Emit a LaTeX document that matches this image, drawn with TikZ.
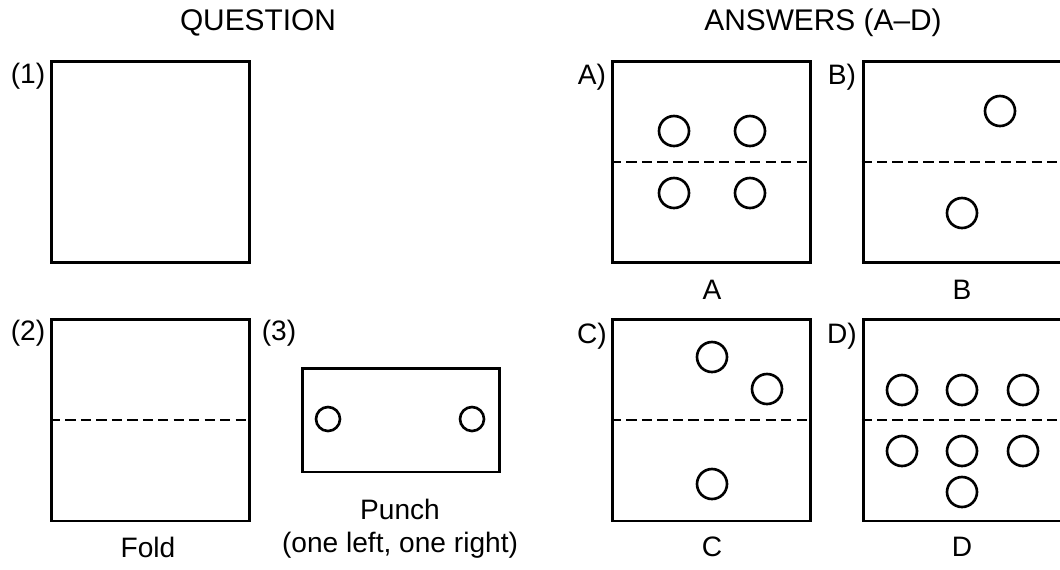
\documentclass[tikz,border=0pt]{standalone}
\usepackage{fontspec}
\setmainfont{Liberation Sans}

\begin{document}
\begin{tikzpicture}[
  x=0.02cm, y=-0.02cm,
  font=\fontsize{16}{19}\selectfont,
  sheet/.style={draw,line width=1.7pt,inner sep=0pt,
    minimum width=3.96cm,minimum height=4.04cm},
  strip/.style={sheet,minimum width=3.96cm,minimum height=2.08cm},
  fold/.style={dash pattern=on 5.8pt off 3pt,line width=1.6pt},
  hole/.style={line width=1.5pt},
  heading/.style={font=\fontsize{17}{20}\selectfont},
  tag/.style={inner sep=0pt},
  caption/.style={inner sep=0pt,align=center}
]
\useasboundingbox (0,0) rectangle (1060,569);

% Headings
\node[heading] (question) at (258,23) {QUESTION};
\node[heading] (answers) at (823,23) {ANSWERS (A--D)};

% Question sheets
\node[sheet] (s1) at (150.5,162) {};
\node[tag] (t1) at (28,76) {(1)};

\node[sheet] (s2) at (150.5,420) {};
\node[tag] (t2) at (28,333) {(2)};
\draw[fold] (s2.west) -- (s2.east);
\node[caption] (fold) at (148,547) {Fold};

\node[strip] (s3) at (401,420) {};
\node[tag] (t3) at (279,333) {(3)};
\draw[hole] (328,419) circle[radius=0.24cm];
\draw[hole] (472,419) circle[radius=0.24cm];
\node[caption] (punch) at (400,529) {Punch\\(one left, one right)};

% Answer A
\node[sheet] (A) at (711.5,162) {};
\node[tag] (tA) at (592,77) {A)};
\draw[fold] (A.west) -- (A.east);
\foreach \p in {(674,131),(750,131),(674,193),(750,193)}
  \draw[hole] \p circle[radius=0.3cm];
\node[caption] (cA) at (712,290) {A};

% Answer B
\node[sheet] (B) at (962,162) {};
\node[tag] (tB) at (842,77) {B)};
\draw[fold] (B.west) -- (B.east);
\foreach \p in {(1000,111),(962,213)}
  \draw[hole] \p circle[radius=0.3cm];
\node[caption] (cB) at (962,290) {B};

% Answer C
\node[sheet] (C) at (711.5,420) {};
\node[tag] (tC) at (592,336) {C)};
\draw[fold] (C.west) -- (C.east);
\foreach \p in {(712,357),(767,389),(712,484)}
  \draw[hole] \p circle[radius=0.3cm];
\node[caption] (cC) at (712,547) {C};

% Answer D
\node[sheet] (D) at (962,420) {};
\node[tag] (tD) at (842,336) {D)};
\draw[fold] (D.west) -- (D.east);
\foreach \p in {(902,390),(962,390),(1023,390),(902,451),(962,451),(1023,451),(962,492)}
  \draw[hole] \p circle[radius=0.3cm];
\node[caption] (cD) at (962,547) {D};

\end{tikzpicture}
\end{document}
